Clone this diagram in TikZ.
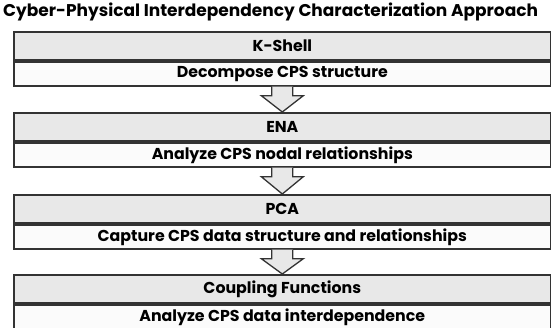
\documentclass[tikz,border=0pt]{standalone}
\usepackage{fontspec}
\setmainfont{Poppins}
\usetikzlibrary{calc}
\definecolor{edgegray}{HTML}{333333}
\definecolor{headgray}{HTML}{E8E8E8}
\definecolor{bodygray}{HTML}{FBFBFB}
\tikzset{
  band/.style={draw=edgegray, line width=1.6pt, minimum width=537pt, inner sep=0pt,
    font=\fontsize{15.8}{17}\selectfont\bfseries},
  head/.style={band, fill=headgray, minimum height=28.5pt},
  body/.style={band, fill=bodygray, minimum height=24pt},
  flow/.style={draw=edgegray, line width=1.3pt, fill=headgray, line join=miter}
}
% block arrow from the bottom of one box to the top of the next
\newcommand{\flowarrow}[2]{
  \draw[flow] ($(#1.south)+(-10.5,0)$) -- ++(0,9) -- ++(-10.5,0) -- (#2.north)
    -- ($(#1.south)+(21,9)$) -- ++(-10.5,0) -- ++(0,-9);
}
\begin{document}
\begin{tikzpicture}[x=1pt, y=-1pt]
  \useasboundingbox (0,0) rectangle (551,328);
  \node[anchor=west, inner sep=0pt, font=\fontsize{17}{18}\selectfont\bfseries] (title) at (3,12)
    {Cyber-Physical Interdependency Characterization Approach};
  % boxes
  \node[head, anchor=north west] (kshell) at (13,31) {K-Shell};
  \node[body, anchor=north] (kshelltxt) at (kshell.south) {Decompose CPS structure};
  \node[head, anchor=north west] (ena) at (13,112) {ENA};
  \node[body, anchor=north] (enatxt) at (ena.south) {Analyze CPS nodal relationships};
  \node[head, anchor=north west] (pca) at (13,194) {PCA};
  \node[body, anchor=north] (pcatxt) at (pca.south) {Capture CPS data structure and relationships};
  \node[head, anchor=north west] (coup) at (13,274) {Coupling Functions};
  \node[body, anchor=north] (couptxt) at (coup.south) {Analyze CPS data interdependence};
  % arrows
  \flowarrow{kshelltxt}{ena}
  \flowarrow{enatxt}{pca}
  \flowarrow{pcatxt}{coup}
\end{tikzpicture}
\end{document}
